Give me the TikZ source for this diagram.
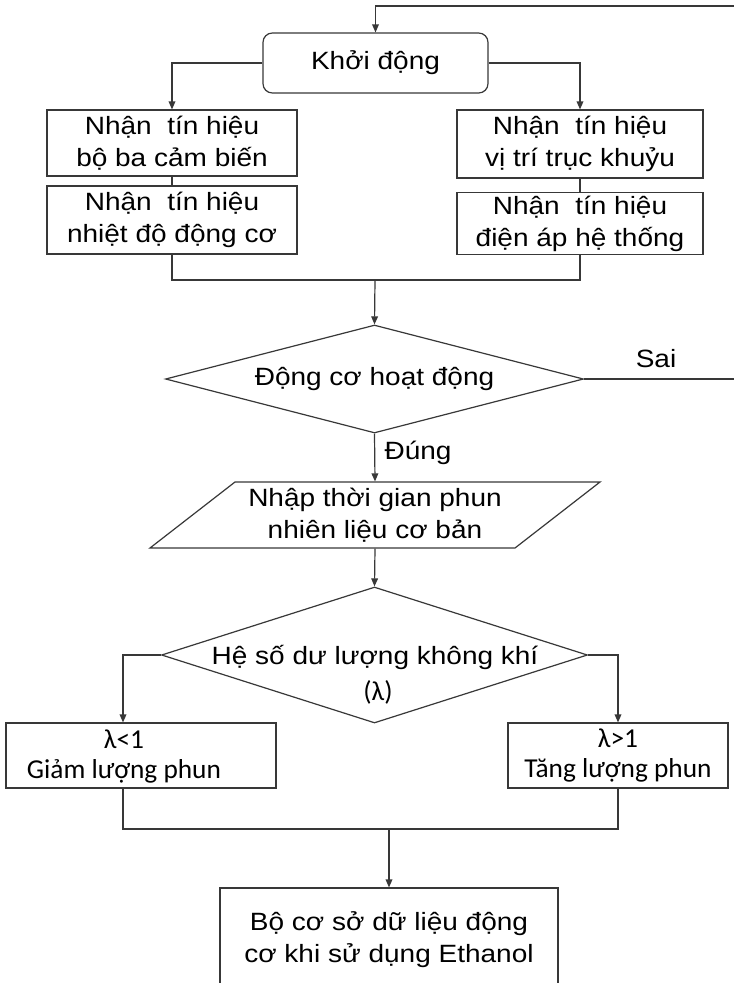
\documentclass[tikz,border=0pt]{standalone}
\usepackage{fontspec}
\setmainfont{Liberation Sans}[FakeStretch=1.12]
\newfontfamily\calib{Carlito}
\usepackage{tikz}
\usetikzlibrary{arrows.meta,shapes.geometric}
\newcommand{\pxu}{0.75pt}
\newcommand{\txtA}{\fontsize{18.75}{24}\selectfont}
\newcommand{\txtB}{\calib\fontsize{20.5}{22.5}\selectfont}

\begin{document}
\begin{tikzpicture}[x=0.75pt, y=-0.75pt,
  color=black!78, line width=0.9pt,
  every node/.style={font=\txtA, text=black, inner sep=0pt},
  box/.style={draw, rectangle, align=center},
  startbox/.style={box, rounded corners=7pt},
  decision/.style={draw, diamond},
  flow/.style={-{Triangle[length=6pt,width=5pt]}}]
  \path[use as bounding box, fill=white] (0,0) rectangle (734,983);

  % start and the four input signals
  \node[startbox, minimum width=225*\pxu, minimum height=60*\pxu] (start) at (375.5,63) {Khởi động};
  \node[box, minimum width=250*\pxu, minimum height=66*\pxu] (sensA) at (172,143) {Nhận\ \ tín hiệu\\bộ ba cảm biến};
  \node[box, minimum width=250*\pxu, minimum height=68*\pxu] (sensB) at (172,220) {Nhận\ \ tín hiệu\\nhiệt độ động cơ};
  \node[box, minimum width=246*\pxu, minimum height=68*\pxu] (sensC) at (580,144) {Nhận\ \ tín hiệu\\vị trí trục khuỷu};
  \node[box, minimum width=246*\pxu, minimum height=62*\pxu] (sensD) at (580,223.5) {Nhận\ \ tín hiệu\\điện áp hệ thống};

  % engine running?
  \node[decision, minimum width=418*\pxu, minimum height=108*\pxu] (run) at (374.5,379) {};
  \node (runtxt) at (run) {Động cơ hoạt động};
  \node (sai) at (656,359) {Sai};
  \node (dung) at (418,453) {Đúng};

  % base injection time
  \node[minimum height=66*\pxu, align=center] (inp) at (375,515) {Nhập thời gian phun\\nhiên liệu cơ bản};
  \draw (235,482) -- (600,482) -- (515,548) -- (150,548) -- cycle;

  % lambda
  \node[decision, minimum width=426*\pxu, minimum height=136*\pxu] (lam) at (374.5,655) {};
  \node[anchor=base] (lamA) at (375,664) {Hệ số dư lượng không khí};
  \node[anchor=base, font=\txtB] (lamB) at (378,700) {(λ)};
  \node[box, minimum width=270*\pxu, minimum height=65*\pxu] (rich) at (141,755.5) {};
  \node[font=\txtB, align=center] (richtxt) at (124,756.5) {λ<1\\Giảm lượng phun};
  \node[box, font=\txtB, minimum width=220*\pxu, minimum height=65*\pxu] (lean) at (618,755.5) {λ>1\\Tăng lượng phun};

  \node[box, minimum width=338*\pxu, minimum height=104*\pxu] (ethanol) at (389,940) {Bộ cơ sở dữ liệu động\\cơ khi sử dụng Ethanol};

  % connectors
  \coordinate (back) at (760,6);
  \coordinate (join1) at (375,280);
  \coordinate (join2) at (389,829);
  \draw[flow] (run.east) -- (run.east -| back) -- (back) -| (start.north);
  \draw[flow] (start.west) -| (sensA.north);
  \draw[flow] (start.east) -| (sensC.north);
  \draw (sensA) -- (sensB);
  \draw (sensC) -- (sensD);
  \draw (sensB.south) |- (join1) -| (sensD.south);
  \draw[flow] (join1) -- (run.north);
  \draw[flow] (run.south) -- (inp.north);
  \draw[flow] (inp.south) -- (lam.north);
  \draw[flow] (lam.west) -| ([xshift=-13.5pt]rich.north);
  \draw[flow] (lam.east) -| (lean.north);
  \draw ([xshift=-13.5pt]rich.south) |- (join2) -| (lean.south);
  \draw[flow] (join2) -- (ethanol.north);
\end{tikzpicture}
\end{document}
